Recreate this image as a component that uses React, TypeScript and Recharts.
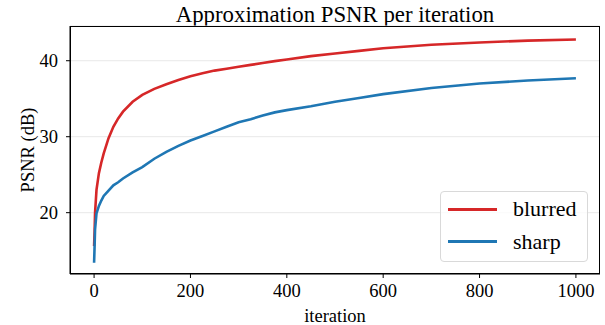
import { LineChart, Line, XAxis, YAxis, CartesianGrid, Legend } from 'recharts';

const iterations = [0, 1, 2, 5, 10, 15, 20, 30, 40, 50, 60, 80, 100, 125, 150, 175, 200, 225, 250, 275, 300, 325, 350, 375, 400, 450, 500, 550, 600, 700, 800, 900, 1000];
const blurred = [15.6, 17.5, 20.0, 23.0, 25.2, 26.6, 27.8, 29.8, 31.3, 32.4, 33.3, 34.6, 35.5, 36.3, 36.9, 37.45, 37.95, 38.35, 38.7, 38.95, 39.2, 39.45, 39.7, 39.95, 40.15, 40.6, 40.95, 41.3, 41.65, 42.1, 42.4, 42.65, 42.8];
const sharp = [13.4, 15.5, 17.8, 19.9, 20.9, 21.6, 22.2, 22.9, 23.6, 24.0, 24.5, 25.3, 26.0, 27.1, 28.0, 28.8, 29.5, 30.1, 30.7, 31.3, 31.9, 32.3, 32.8, 33.2, 33.5, 34.0, 34.6, 35.1, 35.6, 36.4, 37.0, 37.4, 37.7];
const xTicks = [0, 200, 400, 600, 800, 1000];
const yTicks = [20, 30, 40];

const data = iterations.map((it, i) => ({ iteration: it, blurred: blurred[i], sharp: sharp[i] }));

const FONT = 'Liberation Serif, serif';
const FS = 18.5;

function renderLegend(props: any) {
  const { payload = [] } = props;
  return (
    <div
      style={{
        position: 'relative',
        width: 146,
        height: 69,
        border: '1px solid #d9d9d9',
        borderRadius: 4,
        background: 'rgba(255,255,255,0.8)',
        fontFamily: FONT,
        fontSize: 22,
        color: '#000',
      }}
    >
      {payload.map((p: any, i: number) => (
        <div key={p.value} style={{ position: 'absolute', left: 0, top: 1 + i * 32.7, height: 32, display: 'flex', alignItems: 'center' }}>
          <div style={{ marginLeft: 7, width: 49, height: 3, background: p.color }} />
          <span style={{ marginLeft: 16, lineHeight: '32px', fontFamily: FONT }}>{p.value}</span>
        </div>
      ))}
    </div>
  );
}

function yLabel() {
  return (
    <text x={28} y={150} transform="rotate(-90, 28, 150)" textAnchor="middle" dominantBaseline="central" fill="#000" fontSize={FS} fontFamily={FONT}>
      PSNR (dB)
    </text>
  );
}

export default function App() {
  return (
    <div style={{ position: 'absolute', left: 0, top: 0, width: 605, height: 325, background: '#fff', fontFamily: FONT }}>
      <div style={{ position: 'absolute', left: 70, top: 1, width: 530, height: 27, lineHeight: '27px', fontSize: 22.8, textAlign: 'center', color: '#000' }}>
        Approximation PSNR per iteration
      </div>
      <LineChart width={605} height={325} data={data} margin={{ top: 26, right: 5, bottom: 0, left: 0 }} style={{ fontFamily: FONT }}>
        <CartesianGrid vertical={false} stroke="#e8e8e8" strokeWidth={1} />
        <XAxis
          dataKey="iteration"
          type="number"
          domain={[-50, 1050]}
          ticks={xTicks}
          allowDataOverflow
          height={51}
          stroke="#000"
          tickSize={4}
          tickMargin={6}
          tick={{ fill: '#000', fontSize: FS, fontFamily: FONT }}
          label={{ value: 'iteration', position: 'insideBottom', offset: 3, fill: '#000', fontSize: FS, fontFamily: FONT }}
        />
        <YAxis
          type="number"
          domain={[11.93, 44.57]}
          ticks={yTicks}
          allowDataOverflow
          width={70}
          stroke="#000"
          tickSize={4}
          tickMargin={8}
          tick={{ fill: '#000', fontSize: FS, fontFamily: FONT }}
          label={{ content: yLabel }}
        />
        <Legend
          layout="horizontal"
          verticalAlign="middle"
          align="center"
          content={renderLegend}
          wrapperStyle={{ left: 440, top: 191, width: 148, height: 71 }}
        />
        <Line type="linear" dataKey="blurred" name="blurred" stroke="#d62728" strokeWidth={2.6} dot={false} isAnimationActive={false} />
        <Line type="linear" dataKey="sharp" name="sharp" stroke="#1f77b4" strokeWidth={2.6} dot={false} isAnimationActive={false} />
      </LineChart>
      <div style={{ position: 'absolute', left: 70, top: 26, width: 530, height: 248, border: '1px solid #000', boxSizing: 'border-box', pointerEvents: 'none' }} />
    </div>
  );
}
